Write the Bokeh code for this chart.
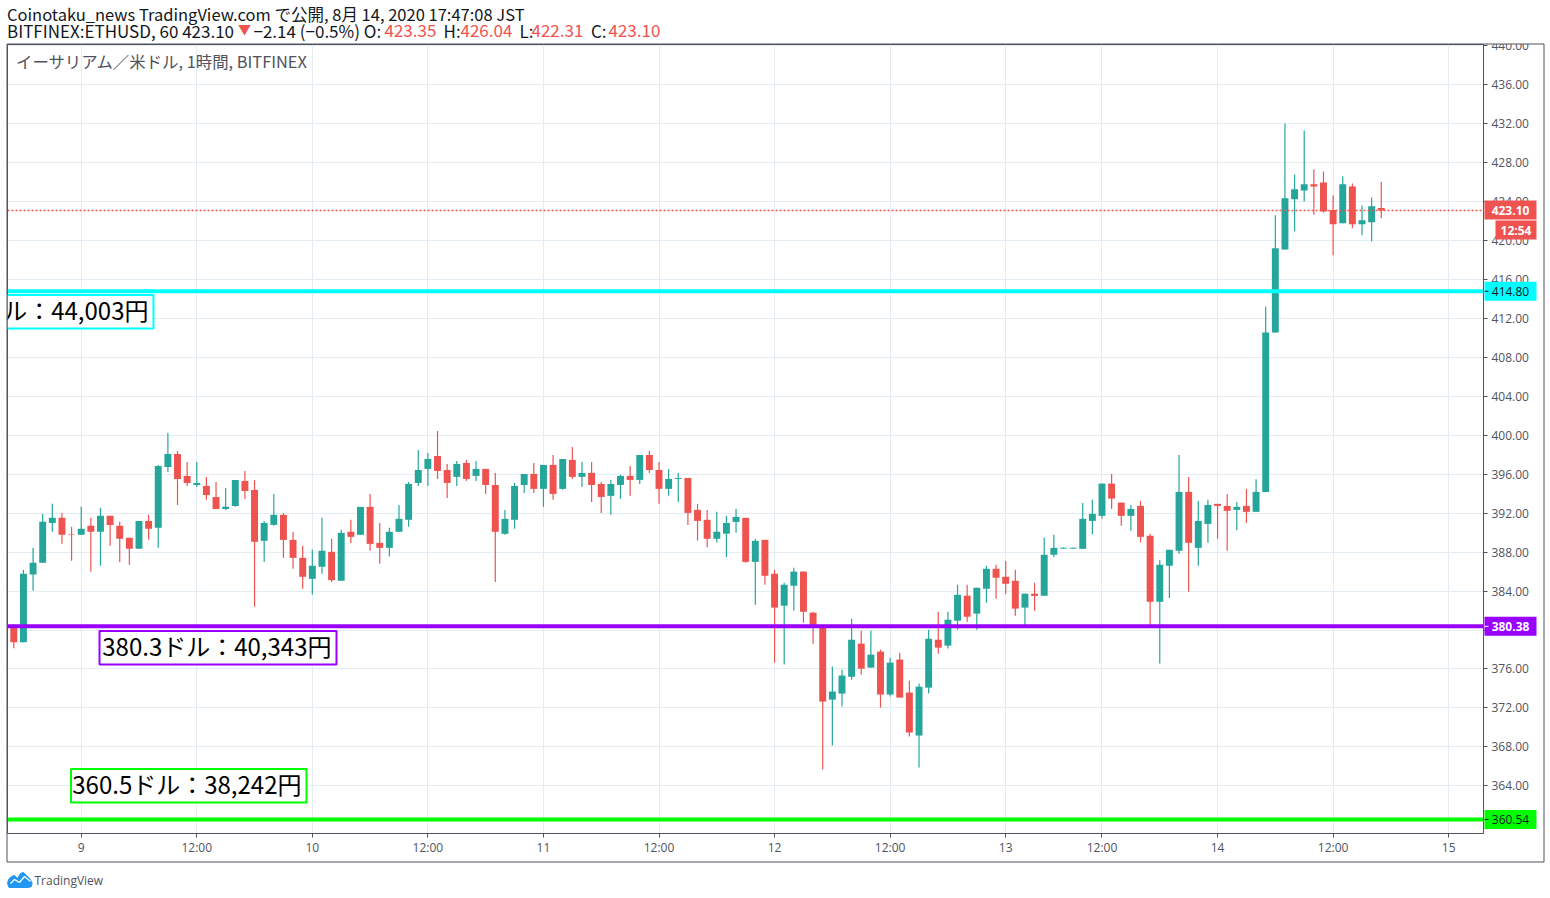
from bokeh.plotting import figure
from bokeh.models import Span, FixedTicker, Range1d, ColumnDataSource
from bokeh.core.properties import value
from bokeh.embed import file_html
from bokeh.resources import INLINE

opens = [380.4,378.74,385.71,386.9,391.0,391.52,389.85,389.78,390.7,390.09,
391.73,390.7,389.47,388.34,391.21,390.5,396.75,398.09,395.83,394.9,
394.8,393.67,392.44,392.75,395.32,394.39,389.16,390.8,391.83,389.26,
387.41,385.26,386.5,388.03,385.06,390.09,389.78,392.65,388.95,388.44,
390.09,391.32,395.11,396.55,397.88,396.44,395.73,397.16,395.83,396.55,
394.9,389.88,391.32,394.9,396.03,394.5,396.96,394.5,397.47,395.73,
396.14,395.0,393.78,394.9,395.83,395.42,397.98,396.44,394.5,395.52,
395.62,392.34,391.32,389.37,389.9,391.1,391.52,387.0,389.26,385.78,
382.5,384.55,386.0,381.78,380.4,372.85,373.47,375.2,378.6,376.14,
377.78,373.37,376.96,373.57,369.16,374.08,379.0,378.4,380.96,383.52,
381.68,384.24,386.29,385.47,385.06,382.3,383.73,383.52,387.73,388.36,
388.36,388.34,391.21,391.73,395.04,393.09,391.73,392.75,389.68,382.9,
386.6,388.14,394.19,388.44,390.9,392.96,392.75,392.34,392.75,392.14,
394.19,410.56,419.1,424.24,425.16,425.78,425.98,423.14,421.78,425.57,
421.68,421.88,423.35]
highs = [380.6,386.19,388.44,391.93,392.96,392.03,390.6,392.65,391.52,392.55,
391.73,391.11,389.47,391.21,391.83,396.96,400.24,398.4,397.26,397.26,
395.73,395.21,394.6,395.42,396.34,395.42,391.21,393.98,392.03,390.09,
388.65,388.24,391.52,389.37,390.29,391.32,392.65,393.98,391.0,390.5,
392.85,395.21,398.5,398.19,400.44,397.06,397.37,397.47,397.37,396.55,
396.14,392.34,395.11,396.03,397.16,396.96,397.98,397.57,398.8,397.26,
397.26,395.21,395.42,395.93,396.85,397.98,398.39,397.26,396.55,396.14,
395.62,392.96,392.34,392.14,391.73,392.44,391.52,389.37,389.26,386.19,
384.85,386.4,386.0,381.88,380.4,376.24,375.93,381.16,379.93,379.93,
377.98,377.16,377.67,374.8,374.5,380.03,381.88,381.88,384.65,384.65,
384.34,386.6,386.7,387.1,386.19,383.73,384.85,389.47,389.78,388.46,
388.46,393.06,393.37,395.04,396.03,393.09,392.85,393.27,389.88,387.2,
388.24,397.98,395.73,393.27,393.37,392.96,393.98,393.16,394.5,395.5,
413.2,422.6,432.03,426.8,431.3,427.3,427.1,424.65,426.6,425.88,
423.62,424.44,426.04]
lows = [378.12,378.74,384.03,386.9,390.09,388.85,387.11,389.78,385.98,386.6,
388.65,387.0,386.69,388.34,389.26,388.44,396.24,392.85,394.8,394.7,
393.37,392.44,392.34,392.65,393.47,382.39,387.0,390.7,387.41,386.29,
384.24,383.62,385.78,384.92,385.06,388.95,389.78,388.14,386.8,387.54,
390.09,390.6,394.8,394.8,395.52,393.57,394.8,395.32,395.32,393.98,
384.92,389.78,390.4,394.08,394.08,392.65,393.37,394.4,395.52,394.7,
393.16,392.03,391.83,393.47,393.78,395.0,396.14,392.96,393.78,393.16,
390.8,389.2,388.5,389.0,387.5,390.0,386.9,382.6,384.65,376.65,
376.45,381.98,380.75,378.6,365.68,368.14,372.14,374.9,375.4,376.14,
372.03,373.16,373.06,369.06,365.87,373.47,377.57,378.1,380.03,380.86,
380.03,382.8,383.2,383.7,381.47,380.5,381.98,383.52,387.5,388.36,
388.36,388.34,389.85,391.42,392.44,390.7,390.2,389.0,380.5,376.55,
383.3,387.83,383.93,386.6,388.96,389.37,388.14,390.24,391.0,392.14,
394.19,410.56,419.1,420.96,424.03,422.67,422.9,418.5,421.78,421.26,
420.55,419.93,422.31]
closes = [378.74,385.78,386.9,391.11,391.52,389.78,389.78,390.4,390.09,391.73,
390.8,389.37,388.34,391.21,390.4,396.85,398.09,395.52,395.11,395.11,
393.88,392.44,392.65,395.42,394.29,389.06,391.0,391.83,389.26,387.41,
385.47,386.6,388.14,385.12,389.98,389.57,392.65,388.85,388.44,390.09,
391.42,395.0,396.44,397.57,396.34,395.11,397.06,395.52,396.55,394.9,
390.09,391.42,394.8,396.03,394.5,396.96,393.98,397.57,395.73,396.14,
394.9,393.67,395.0,395.83,395.42,397.98,396.44,394.5,395.52,395.62,
392.03,391.21,389.37,390.1,391.0,391.62,387.0,389.16,385.57,382.3,
384.65,386.0,381.88,380.4,372.65,373.68,375.32,379.0,376.03,377.47,
373.37,376.65,373.06,369.47,374.18,379.1,378.19,381.06,383.62,381.37,
384.34,386.29,385.37,384.75,382.2,383.73,383.5,387.73,388.44,388.46,
388.46,391.42,391.93,395.04,393.5,391.73,392.44,389.57,382.9,386.7,
388.24,394.19,388.96,391.21,392.85,392.75,392.24,392.65,392.14,394.19,
410.56,419.21,424.34,425.27,425.78,425.57,423.0,421.68,425.78,421.68,
422.09,423.52,423.1]

price_ticks = [364,368,372,376,380,384,388,392,396,400,404,408,412,416,420,424,428,432,436,440]
time_ticks = [7,19,31,43,55,67,79,91,103,113,125,137,149]
time_labels = ["9","12:00","10","12:00","11","12:00","12","12:00","13","12:00","14","12:00","15"]
level_prices = [414.80,380.38,360.54]
level_colors = ["#00ffff","#9900ff","#00ff00"]
level_text = ["#131722","#ffffff","#131722"]
last_price = 423.10

UP, DOWN = "#26a69a", "#ef5350"
GRID, AX, TXT, INK = "#e4edf3", "#50535e", "#50535e", "#131722"
JP = "Noto Sans CJK JP"
TICKF = "Open Sans"

WIDTH, HEIGHT = 1546, 888
L, R, T, B = 7, 1483, 44, 833
PX_PER_BAR, BAR0 = 9.63, 13.3
PX_PER_USD, Y432 = 9.735, 123.3
x0 = (L - BAR0) / PX_PER_BAR
x1 = (R - BAR0) / PX_PER_BAR
y_top = 432 + (Y432 - T) / PX_PER_USD
y_bot = 432 - (B - Y432) / PX_PER_USD

p = figure(width=WIDTH, height=HEIGHT, output_backend="svg", toolbar_location=None,
           x_range=Range1d(x0, x1), y_range=Range1d(y_bot, y_top), y_axis_location="right",
           min_border_left=L, min_border_right=WIDTH - R, min_border_top=T, min_border_bottom=HEIGHT - B)
p.background_fill_color = "white"
p.outline_line_color = AX
p.xgrid.ticker = FixedTicker(ticks=time_ticks)
p.ygrid.ticker = FixedTicker(ticks=price_ticks)
p.xgrid.grid_line_color = GRID
p.ygrid.grid_line_color = GRID

for ax, ticks in ((p.xaxis[0], time_ticks), (p.yaxis[0], price_ticks)):
    ax.ticker = FixedTicker(ticks=ticks)
    ax.axis_line_color = AX
    ax.major_tick_line_color = AX
    ax.minor_tick_line_color = None
    ax.major_tick_in = 0
    ax.major_tick_out = 4
    ax.major_label_text_color = TXT
    ax.major_label_text_font = TICKF
    ax.major_label_text_font_size = "12px"
p.xaxis[0].major_label_overrides = dict(zip(time_ticks, time_labels))
p.xaxis[0].major_label_standoff = 1
p.yaxis[0].major_label_overrides = {t: f"{t:.2f}" for t in price_ticks}
p.yaxis[0].major_label_standoff = 4

idx = list(range(len(opens)))
colors = [UP if c >= o else DOWN for o, c in zip(opens, closes)]
src = ColumnDataSource(dict(x=idx, o=opens, h=highs, l=lows, c=closes, color=colors,
                            top=[max(a, b) for a, b in zip(opens, closes)],
                            bottom=[min(a, b) for a, b in zip(opens, closes)]))
p.segment("x", "h", "x", "l", source=src, line_color="color", line_width=1.2)
p.vbar("x", 0.72, "bottom", "top", source=src, fill_color="color", line_color=None)

def px_x(x): return (x - BAR0) / PX_PER_BAR
def px_y(y): return 432 - (y - Y432) / PX_PER_USD

def note(xr, ys, color, text):
    p.quad(left=[px_x(xr[0])], right=[px_x(xr[1])], top=[px_y(ys[0])], bottom=[px_y(ys[1])],
           fill_color="white", line_color=color, line_width=2)
    p.text(x=[px_x(xr[1] - 5)], y=[px_y((ys[0] + ys[1]) / 2 - 2)], text=[text], text_font=value(JP),
           text_font_size="24px", text_color="#000000", text_align="right", text_baseline="middle")

note((-100, 153), (294.5, 328), "#00ffff", "414.8ドル：44,003円")
note((99, 336), (630.5, 664), "#9900ff", "380.3ドル：40,343円")
note((70.5, 306), (768.5, 802), "#00ff00", "360.5ドル：38,242円")

p.add_layout(Span(location=last_price, dimension="width", line_color=DOWN, line_width=1.4, line_dash="2 2"))
for lv, col in zip(level_prices, level_colors):
    p.add_layout(Span(location=lv, dimension="width", line_color=col, line_width=4))

# transparent sheet over the whole page for what lies outside the plot frame
o = figure(width=WIDTH, height=HEIGHT, output_backend="svg", toolbar_location=None,
           x_range=Range1d(0, WIDTH), y_range=Range1d(HEIGHT, 0), x_axis_type=None, y_axis_type=None,
           min_border=0, styles={"position": "absolute", "left": "0px", "top": "0px"})
o.background_fill_alpha = 0
o.border_fill_alpha = 0
o.outline_line_color = None
o.grid.visible = False

def txt(x, y, s, color=INK, size="17px", font=JP, align="left", style="normal"):
    o.text(x=[x], y=[y], text=[s], text_color=color, text_font_size=size, text_font=value(font),
           text_align=align, text_baseline="middle", text_font_style=style)

def box(l, r, t, b, fill=None, line=None):
    o.quad(left=[l], right=[r], top=[t], bottom=[b], fill_color=fill, fill_alpha=1 if fill else 0,
           line_color=line, line_width=1)

def price_y(v): return Y432 + (432 - v) * PX_PER_USD

box(1484, 1545, 30, 43.5, fill="white")
box(6.5, 1543.5, 43.5, 861.5, line=AX)

ly = price_y(last_price)
box(1484, 1536, ly - 10, ly + 9, fill=DOWN)
txt(1510, ly, f"{last_price:.2f}", "#ffffff", "12px", TICKF, "center", "bold")
box(1495, 1536, ly + 10, ly + 29, fill=DOWN)
txt(1515.5, ly + 20, "12:54", "#ffffff", "12px", TICKF, "center", "bold")
for lv, col, tc in zip(level_prices, level_colors, level_text):
    yy = price_y(lv)
    box(1484, 1536, yy - 9.5, yy + 9.5, fill=col)
    o.segment(x0=[1484], y0=[yy], x1=[1488], y1=[yy], line_color=tc, line_width=1)
    txt(1510, yy, f"{lv:.2f}", tc, "12px", TICKF, "center", "bold" if tc == "#ffffff" else "normal")

txt(6.5, 13.5, "Coinotaku_news TradingView.com で公開, 8月 14, 2020 17:47:08 JST", size="16.5px")
txt(6.5, 30, "BITFINEX:ETHUSD, 60 423.10")
txt(237.5, 28, "▼", DOWN, "13px")
txt(253, 30, "−2.14 (−0.5%) O:")
for x, s, c in ((384, "423.35", DOWN), (443, "H:", INK), (460, "426.04", DOWN), (519, "L:", INK),
                (531, "422.31", DOWN), (590.5, "C:", INK), (608, "423.10", DOWN)):
    txt(x, 30, s, c)
txt(15.5, 60, "イーサリアム／米ドル, 1時間, BITFINEX", TXT, "16.4px")

cloud_x = [7, 8, 11, 14, 17, 20, 23, 26, 29, 31.5, 31, 28, 8.5]
cloud_y = [883, 879, 876, 875, 878, 873, 872, 875, 878, 882, 886, 887, 887]
o.patch(cloud_x, cloud_y, fill_color="#2196f3", line_color="#2196f3")
o.line([10, 14, 19, 24, 30], [883, 879, 882, 876, 881], line_color="white", line_width=1.2)
txt(34, 880, "TradingView", TXT, "12px", TICKF)

open("out.html", "w").write(file_html([p, o], INLINE))
